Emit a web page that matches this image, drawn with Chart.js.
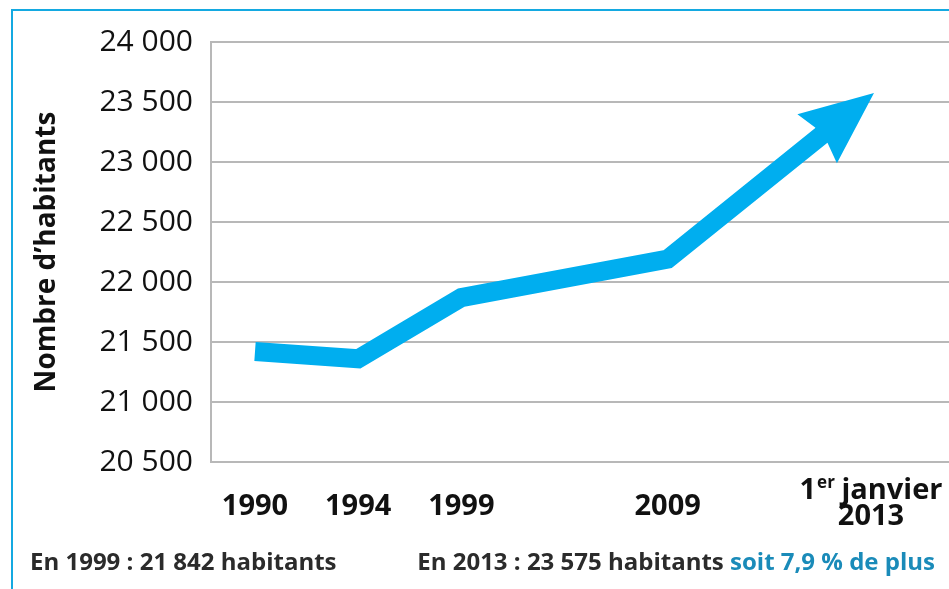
<!DOCTYPE html>
<html>
<head>
<meta charset="utf-8">
<script src="https://cdn.jsdelivr.net/npm/chart.js@4"></script>
<style>
  body { margin: 0; background: #fff; }
  #wrap { position: relative; width: 949px; height: 589px; overflow: hidden; font-family: "Open Sans", sans-serif; }
  #cadre { position: absolute; left: 11px; top: 9px; right: -10px; bottom: -10px;
           border-top: 2px solid #14a9e1; border-left: 2px solid #14a9e1; }
  canvas { position: absolute; left: 0; top: 0; }
  .note { position: absolute; top: 544px; font-weight: bold; font-size: 24px; color: #2b2b2b; white-space: nowrap; }
</style>
</head>
<body>
<div id="wrap">
  <div id="cadre"></div>
  <canvas id="c" width="949" height="589"></canvas>
  <div class="note" style="left:30px">En 1999 : 21 842 habitants</div>
  <div class="note" style="right:14px">En 2013 : 23 575 habitants <span style="color:#1a8bb9">soit 7,9 % de plus</span></div>
</div>
<script>
// Années (les cases vides gardent l'espacement du graphique d'origine)
const annees = ['1990', '1994', '1999', '', '2009', '', '1er janvier 2013'];
// Nombre d'habitants
const habitants = [21420, 21360, 21870, null, 22190, null, 23575];
// Graduations de l'axe vertical
const yMin = 20500, yMax = 24000, yPas = 500;

const bleu = '#00aeef';

const points = annees.map((a, i) => ({ x: i, y: habitants[i] })).filter(p => p.y !== null);

function geomFleche(chart) {
  const pts = chart.getDatasetMeta(0).data;
  const a = pts[pts.length - 2], b = pts[pts.length - 1];
  const dx = b.x - a.x, dy = b.y - a.y, L = Math.hypot(dx, dy);
  return { tx: b.x, ty: b.y, ux: dx / L, uy: dy / L, nx: -dy / L, ny: dx / L };
}

const fleche = {
  id: 'fleche',
  beforeDatasetDraw(chart) {
    const ctx = chart.ctx, g = geomFleche(chart);
    const px = g.tx - 66 * g.ux, py = g.ty - 66 * g.uy;
    ctx.save();
    ctx.beginPath();
    ctx.moveTo(px + 3000 * g.nx, py + 3000 * g.ny);
    ctx.lineTo(px - 3000 * g.nx, py - 3000 * g.ny);
    ctx.lineTo(px - 3000 * g.nx - 3000 * g.ux, py - 3000 * g.ny - 3000 * g.uy);
    ctx.lineTo(px + 3000 * g.nx - 3000 * g.ux, py + 3000 * g.ny - 3000 * g.uy);
    ctx.closePath();
    ctx.clip();
  },
  afterDatasetDraw(chart) {
    const ctx = chart.ctx, g = geomFleche(chart);
    ctx.restore();
    const pt = (a, b) => [g.tx + a * g.ux + b * g.nx, g.ty + a * g.uy + b * g.ny];
    const forme = [pt(0, 0), pt(-73, -31.5), pt(-67.5, -10), pt(-67.5, 10), pt(-73, 31.5)];
    ctx.save();
    ctx.fillStyle = bleu;
    ctx.beginPath();
    forme.forEach((p, i) => i ? ctx.lineTo(p[0], p[1]) : ctx.moveTo(p[0], p[1]));
    ctx.closePath();
    ctx.fill();
    ctx.restore();
  }
};

// étiquettes de l'axe des x (avec l'exposant de "1er")
const etiquettesX = {
  id: 'etiquettesX',
  afterDraw(chart) {
    const ctx = chart.ctx, x = chart.scales.x;
    ctx.save();
    ctx.fillStyle = '#111';
    ctx.textBaseline = 'alphabetic';
    annees.forEach((lab, i) => {
      if (!lab) return;
      const px = x.getPixelForValue(i);
      const mots = lab.split(' ');
      if (mots.length === 1) {
        ctx.font = 'bold 29px "Open Sans"';
        ctx.textAlign = 'center';
        ctx.fillText(lab, px, 515);
        return;
      }
      const chiffre = mots[0].replace(/\D+$/, ''), expo = mots[0].slice(chiffre.length);
      const suite = ' ' + mots[1];
      ctx.font = 'bold 29px "Open Sans"';
      const w1 = ctx.measureText(chiffre).width, w3 = ctx.measureText(suite).width;
      ctx.font = 'bold 17px "Open Sans"';
      const w2 = ctx.measureText(expo).width;
      let sx = px - (w1 + w2 + w3) / 2 - 3;
      ctx.textAlign = 'left';
      ctx.font = 'bold 29px "Open Sans"';
      ctx.fillText(chiffre, sx, 499);
      ctx.font = 'bold 17px "Open Sans"';
      ctx.fillText(expo, sx + w1 + 1, 488);
      ctx.font = 'bold 29px "Open Sans"';
      ctx.fillText(suite, sx + w1 + w2, 499);
      ctx.textAlign = 'center';
      ctx.fillText(mots.slice(2).join(' '), px - 3, 525);
    });
    ctx.restore();
  }
};

new Chart(document.getElementById('c'), {
  type: 'line',
  data: {
    datasets: [{
      data: points,
      borderColor: bleu,
      borderWidth: 19,
      borderCapStyle: 'butt',
      borderJoinStyle: 'miter',
      pointRadius: 0,
      tension: 0,
      spanGaps: true,
      fill: false
    }]
  },
  options: {
    responsive: false,
    animation: false,
    layout: { padding: { top: 42, right: 0, bottom: 127, left: 0 } },
    plugins: { legend: { display: false }, tooltip: { enabled: false } },
    scales: {
      x: { type: 'linear', display: false, min: -0.4265, max: 6.727 },
      y: {
        min: yMin, max: yMax,
        ticks: {
          stepSize: yPas, padding: 18, color: '#111',
          font: { family: '"Open Sans"', size: 30 },
          callback: v => String(v).replace(/\B(?=(\d{3})+(?!\d))/g, ' ')
        },
        grid: { color: '#b8b8b8', lineWidth: 2, drawTicks: false },
        border: { color: '#b8b8b8', width: 2 },
        title: {
          display: true, text: 'Nombre d’habitants', color: '#111',
          font: { family: '"Open Sans"', size: 28, weight: 'bold' },
          padding: { top: 30, bottom: 0 }
        },
        afterFit(s) { s.width = 211; }
      }
    }
  },
  plugins: [fleche, etiquettesX]
});
</script>
</body>
</html>
